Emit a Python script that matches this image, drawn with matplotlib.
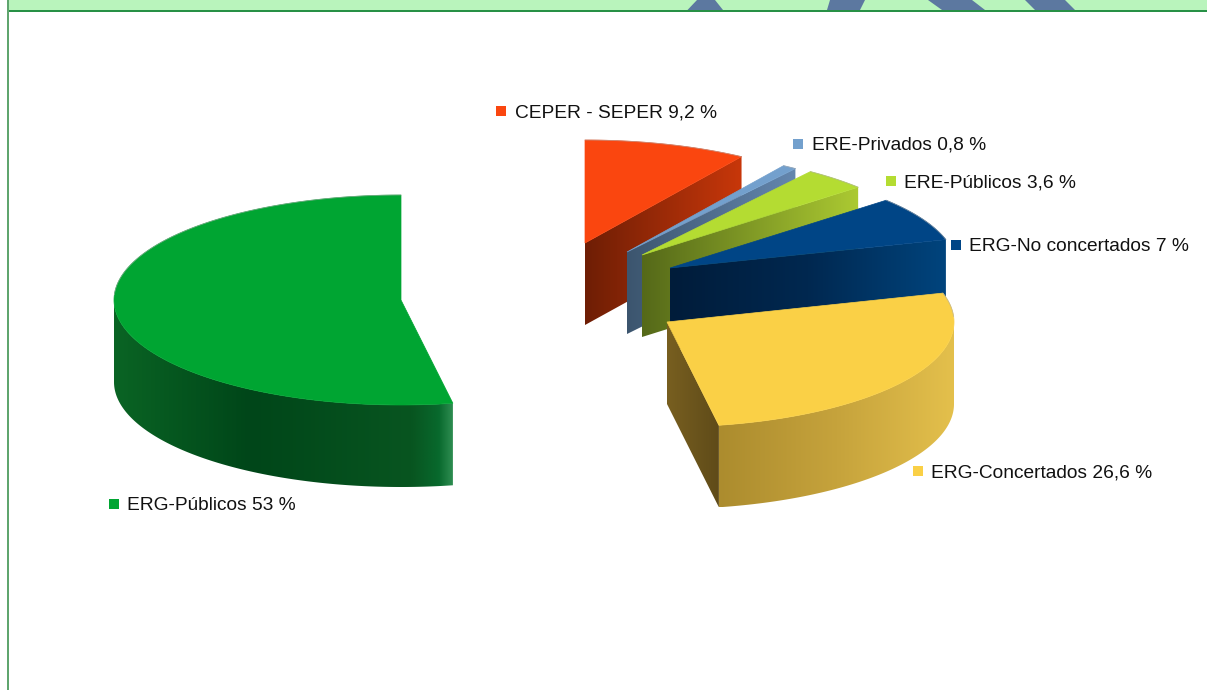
import numpy as np
import matplotlib
matplotlib.use("Agg")
import matplotlib.pyplot as plt
from matplotlib.patches import Polygon, Rectangle
from matplotlib.colors import LinearSegmentedColormap

# --- data ---
categories = ["CEPER - SEPER", "ERE-Privados", "ERE-Públicos", "ERG-No concertados", "ERG-Concertados", "ERG-Públicos"]
values = [9.2, 0.8, 3.6, 7, 26.6, 53]
value_labels = ["9,2", "0,8", "3,6", "7", "26,6", "53"]

# --- layout / style (pixels) ---
W, H = 1207, 690
RX, DEPTH = 287, 82
RY = [103, 103, 103, 103, 105, 105]
apex = [(585, 243), (627, 252), (642, 255), (670, 268), (667, 322), (401, 300)]
top_col = [(250, 70, 15), (115, 160, 205), (180, 220, 50), (0, 69, 134), (250, 208, 70), (0, 165, 50)]
face_ramp = [
    [(0, (110, 30, 5)), (1, (200, 55, 10))],
    [(0, (60, 85, 110)), (1, (100, 135, 175))],
    [(0, (85, 105, 25)), (1, (172, 202, 50))],
    [(0, (0, 28, 58)), (0.5, (0, 40, 80)), (1, (0, 68, 125))],
    [(0, (120, 95, 32)), (1, (95, 75, 25))],
    None,
]
rim_ramp = {
    4: [(0, (172, 140, 46)), (0.5, (198, 163, 60)), (1, (228, 192, 76))],
    5: [(0, (10, 100, 36)), (0.4, (0, 70, 25)), (0.88, (8, 85, 32)), (0.96, (8, 105, 45)), (1, (45, 140, 80))],
}
label_xy = [(515, 112.5), (812, 145.5), (904, 182.5), (969, 246.5), (931, 472.5), (127, 505.5)]
square_xy = [(501, 111), (798, 144), (891, 181), (956, 245), (918, 471), (114, 504)]
band_shapes = [
    [(697, 0), (715, 0), (723, 10), (687.5, 10)],
    [(830, 0), (865, 0), (860, 10), (827, 10)],
    [(928, 0), (972, 0), (985, 10), (942, 10)],
    [(1025, 0), (1065, 0), (1075, 10), (1035, 10)],
]

plt.rcParams["font.family"] = ["Liberation Sans", "DejaVu Sans"]
fig = plt.figure(figsize=(W / 100, H / 100), dpi=100)
ax = fig.add_axes([0, 0, 1, 1])


def c(rgb):
    return tuple(v / 255 for v in rgb)


def grad_poly(pts, ramp, z):
    pts = np.asarray(pts)
    patch = Polygon(pts, closed=True, fc="none", ec="none", zorder=z)
    ax.add_patch(patch)
    cmap = LinearSegmentedColormap.from_list("r", [(p, c(col)) for p, col in ramp])
    x0, x1 = pts[:, 0].min(), pts[:, 0].max()
    y0, y1 = pts[:, 1].min(), pts[:, 1].max()
    im = ax.imshow(np.linspace(0, 1, 256)[None, :], cmap=cmap, extent=(x0, x1, y1, y0),
                   aspect="auto", zorder=z, interpolation="bilinear")
    im.set_clip_path(patch)


def rim_point(i, th):
    return apex[i][0] + RX * np.sin(th), apex[i][1] - RY[i] * np.cos(th)


total = sum(values)
cum = np.cumsum([0] + values) / total * 2 * np.pi
order = [0, 1, 2, 3, 5, 4]

for n, i in enumerate(order):
    a0, a1 = cum[i], cum[i + 1]
    ctr = apex[i]
    arc = np.array([rim_point(i, t) for t in np.linspace(a0, a1, 200)])
    z = 2 + n * 3
    # outer rim: only the part facing the viewer
    if i in rim_ramp:
        t_r = np.linspace(max(a0, np.pi / 2), min(a1, 3 * np.pi / 2), 200)
        front = np.array([rim_point(i, t) for t in t_r])
        grad_poly(np.vstack([front, (front + [0, DEPTH])[::-1]]), rim_ramp[i], z)
    # cut face at the slice end
    if face_ramp[i] is not None:
        e = np.array(rim_point(i, a1))
        ap = np.array(ctr, float)
        grad_poly([ap, e, e + [0, DEPTH], ap + [0, DEPTH]], face_ramp[i], z + 1)
    # top
    ax.add_patch(Polygon(np.vstack([[ctr], arc]), closed=True, fc=c(top_col[i]),
                         ec=c(top_col[i]), lw=0.5, zorder=z + 2))
    # faint grey edge on the back of the rim
    back = np.array([rim_point(i, t) for t in np.linspace(a0, a1, 200)
                     if np.cos(t) > 0.05])
    if len(back):
        ax.plot(back[:, 0], back[:, 1], color=c((170, 170, 170)), lw=0.6, alpha=0.6, zorder=z + 2.5)

# header band and frame
ax.add_patch(Rectangle((8, 0), W - 8, 10, fc=c((185, 244, 188)), ec="none", zorder=30))
for s in band_shapes:
    ax.add_patch(Polygon(s, closed=True, fc=c((92, 120, 160)), ec="none", zorder=31))
ax.add_patch(Rectangle((8, 10), W - 8, 2, fc=c((40, 145, 70)), ec="none", zorder=32))
ax.add_patch(Rectangle((7, 0), 2, H, fc=c((95, 165, 110)), ec="none", zorder=32))

# labels
for i, name in enumerate(categories):
    sx, sy = square_xy[i]
    ax.add_patch(Rectangle((sx - 5, sy - 5), 10, 10, fc=c(top_col[i]), ec="none", zorder=40))
    ax.text(label_xy[i][0], label_xy[i][1], f"{name} {value_labels[i]} %", fontsize=13.8,
            color="#111111", va="center", ha="left", zorder=41)

ax.set_xlim(0, W)
ax.set_ylim(H, 0)
ax.axis("off")
fig.savefig("out.png", dpi=100, facecolor="white")
